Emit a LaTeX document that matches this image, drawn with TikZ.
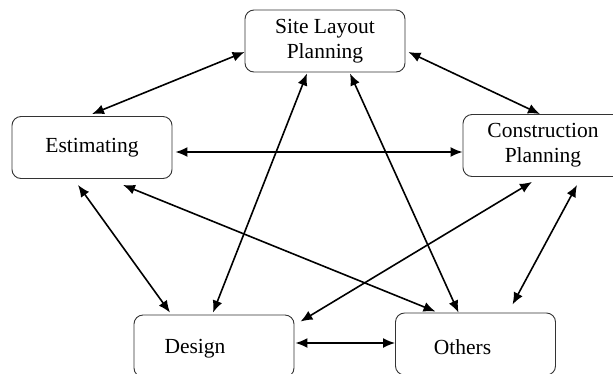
\documentclass[tikz,border=0pt]{standalone}
\usepackage{fontspec}
\setmainfont{Liberation Serif}
\usetikzlibrary{arrows.meta, positioning}

\begin{document}
\begin{tikzpicture}[x=1pt,y=-1pt,>={Latex[length=12pt,width=10pt]},
        task/.style={draw=black!80,line width=0.9pt,rounded corners=9pt,
          minimum width=160pt,minimum height=62pt,align=center,
          font=\fontsize{21.5pt}{25pt}\selectfont},
        link/.style={<->,line width=1.6pt}]
        \useasboundingbox (0,0) rectangle (613,373);

        \node[task] (site) at (325,41) {Site Layout\\Planning};
        \node[task] (est) at (92,147.5) {Estimating};
        \node[task] (cons) at (543,145.5) {Construction\\Planning};
        \node[task, label={[xshift=-19pt,yshift=-3pt,font=\fontsize{21.5pt}{25pt}\selectfont]center:Design}] (design) at (214,346) {};
        \node[task, label={[xshift=-13pt,yshift=-3pt,font=\fontsize{21.5pt}{25pt}\selectfont]center:Others}] (others) at (475.5,344) {};

        \path[link] ([yshift=2pt]est.north) edge ([yshift=-11pt]site.west)
                    ([xshift=3pt,yshift=-11pt]site.east) edge ([xshift=-3pt]cons.north)
                    ([xshift=3pt,yshift=-4.5pt]est.east) edge ([yshift=-6.5pt]cons.west)
                    ([xshift=-14pt,yshift=-6pt]est.south) edge ([xshift=-44pt,yshift=2pt]design.north)
                    ([xshift=31pt,yshift=-6pt]est.south) edge ([xshift=-40pt,yshift=1pt]others.north)
                    ([xshift=-18pt,yshift=-1pt]site.south) edge ([xshift=-1pt,yshift=2pt]design.north)
                    ([xshift=25pt,yshift=-1pt]site.south) edge ([xshift=-17pt]others.north)
                    ([xshift=-11pt,yshift=-5pt]cons.south) edge ([xshift=6pt,yshift=-7pt]design.north east)
                    ([xshift=34pt,yshift=-8pt]cons.south) edge ([xshift=37pt,yshift=8pt]others.north)
                    ([xshift=1pt,yshift=3pt]design.east) edge ([yshift=1pt]others.west);
\end{tikzpicture}
\end{document}
